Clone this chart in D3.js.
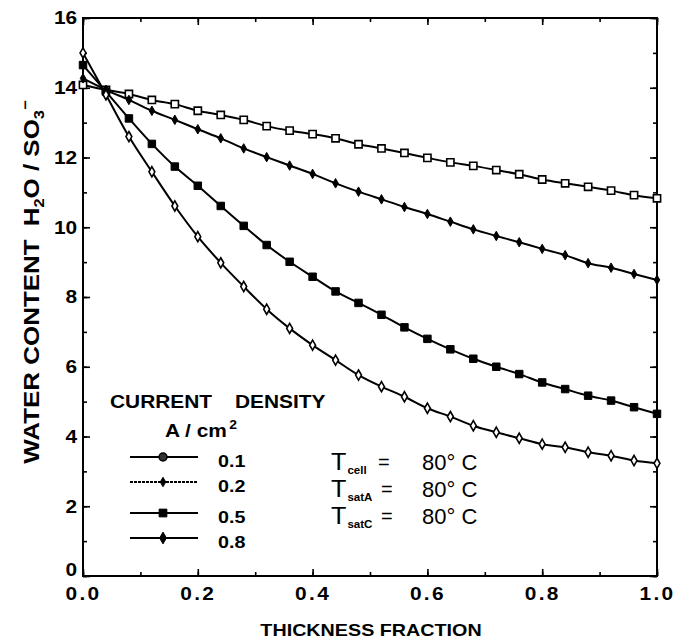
<!DOCTYPE html>
<html><head><meta charset="utf-8">
<script src="https://cdn.jsdelivr.net/npm/d3@7"></script>
<style>
html,body{margin:0;padding:0;background:#fff;}
svg{display:block;font-family:"Liberation Sans",Arial,Helvetica,sans-serif;}
</style></head><body>
<svg id="chart" width="688" height="642"></svg>
<script>
// ---- data ----
const thickness = [0.00,0.04,0.08,0.12,0.16,0.20,0.24,0.28,0.32,0.36,0.40,0.44,0.48,0.52,0.56,0.60,0.64,0.68,0.72,0.76,0.80,0.84,0.88,0.92,0.96,1.00];
const cd01 = [14.08,13.94,13.82,13.65,13.53,13.34,13.22,13.08,12.90,12.77,12.67,12.55,12.38,12.26,12.13,11.99,11.86,11.76,11.64,11.52,11.37,11.26,11.16,11.05,10.92,10.83];
const cd02 = [14.27,13.94,13.65,13.34,13.08,12.81,12.55,12.26,12.01,11.77,11.53,11.26,11.02,10.80,10.58,10.38,10.16,9.94,9.75,9.57,9.38,9.20,8.97,8.84,8.66,8.49];
const cd05 = [14.65,13.89,13.12,12.39,11.74,11.19,10.61,10.04,9.49,9.01,8.58,8.16,7.83,7.49,7.13,6.80,6.50,6.23,6.00,5.79,5.55,5.36,5.17,5.03,4.84,4.65];
const cd08 = [15.00,13.80,12.60,11.59,10.61,9.73,8.98,8.30,7.65,7.10,6.62,6.19,5.76,5.43,5.14,4.81,4.57,4.31,4.12,3.95,3.78,3.69,3.55,3.45,3.31,3.23];
const seriesLabels = ["0.1","0.2","0.5","0.8"];
const xTickValues = [0.0,0.2,0.4,0.6,0.8,1.0];
const xMinorValues = [0.0,0.1,0.2,0.3,0.4,0.5,0.6,0.7,0.8,0.9,1.0];
const yTickValues = [0,2,4,6,8,10,12,14,16];
const yMinorValues = [0,1,2,3,4,5,6,7,8,9,10,11,12,13,14,15,16];
const condSubs = ["cell","satA","satC"];
const condValues = ["80° C","80° C","80° C"];

// ---- layout ----
const svg = d3.select("#chart");
const L = 83, R = 657, T = 18, B = 576;
const SX = 1.16; // horizontal stretch of the original lettering
const x = d3.scaleLinear().domain([0,1]).range([L,R]);
const y = d3.scaleLinear().domain([0,16]).range([B,T]);

function txt(g, px, py, str, size, weight, anchor, sx){
  return g.append("text")
    .attr("transform",`translate(${px},${py}) scale(${sx||SX},1)`)
    .attr("text-anchor",anchor||"start")
    .attr("font-size",size).attr("font-weight",weight||"bold")
    .attr("fill","#000").text(str);
}

// ---- axes ----
function styleAxis(g){ g.select(".domain").remove(); g.selectAll("line").attr("stroke","#000").attr("stroke-width",1.6); }

svg.append("g").attr("transform",`translate(0,${B})`)
  .call(d3.axisBottom(x).tickValues(xMinorValues).tickSize(-4).tickFormat(""))
  .call(styleAxis);
const xb = svg.append("g").attr("transform",`translate(0,${B})`)
  .call(d3.axisBottom(x).tickValues(xTickValues).tickSize(-7).tickPadding(11).tickFormat(d3.format(".1f")))
  .call(styleAxis);
xb.selectAll("text").attr("font-size",18).attr("font-weight","bold").attr("fill","#000")
  .attr("letter-spacing","2px").attr("transform",`scale(${SX},1)`).attr("font-family","'Liberation Sans',Arial,sans-serif");

svg.append("g").attr("transform",`translate(0,${T})`)
  .call(d3.axisTop(x).tickValues(xMinorValues).tickSize(-4).tickFormat(""))
  .call(styleAxis);
svg.append("g").attr("transform",`translate(0,${T})`)
  .call(d3.axisTop(x).tickValues(xTickValues).tickSize(-7).tickFormat(""))
  .call(styleAxis);

svg.append("g").attr("transform",`translate(${L},0)`)
  .call(d3.axisLeft(y).tickValues(yMinorValues).tickSize(-4).tickFormat(""))
  .call(styleAxis);
const yl = svg.append("g").attr("transform",`translate(${L},0)`)
  .call(d3.axisLeft(y).tickValues(yTickValues).tickSize(-7).tickPadding(5).tickFormat(d3.format("d")))
  .call(styleAxis);
yl.selectAll("text").attr("font-size",18).attr("font-weight","bold").attr("fill","#000")
  .attr("transform",`scale(${SX},1)`).attr("font-family","'Liberation Sans',Arial,sans-serif");
// lift the bottom "0" a little so it sits above "0.0" as in the reference
yl.selectAll(".tick").filter(d=>d===0).select("text").attr("dy","-0.05em");

svg.append("g").attr("transform",`translate(${R},0)`)
  .call(d3.axisRight(y).tickValues(yMinorValues).tickSize(-4).tickFormat(""))
  .call(styleAxis);
svg.append("g").attr("transform",`translate(${R},0)`)
  .call(d3.axisRight(y).tickValues(yTickValues).tickSize(-7).tickFormat(""))
  .call(styleAxis);

svg.append("rect").attr("x",L).attr("y",T).attr("width",R-L).attr("height",B-T)
  .attr("fill","none").attr("stroke","#000").attr("stroke-width",2);

// ---- series ----
const allSeries = [cd01, cd02, cd05, cd08];
const markerStyles = [
  {type:d3.symbolSquare, size:52, fill:"#fff", stroke:"#000", sw:1.6},
  {type:d3.symbolDiamond, size:26, fill:"#000", stroke:"#000", sw:1},
  {type:d3.symbolSquare, size:56, fill:"#000", stroke:"#000", sw:1},
  {type:d3.symbolDiamond, size:30, fill:"#fff", stroke:"#000", sw:1.6}
];
const line = d3.line().x((d,i)=>x(thickness[i])).y(d=>y(d)).curve(d3.curveMonotoneX);
const plot = svg.append("g");
allSeries.forEach((vals,si)=>{
  plot.append("path").datum(vals).attr("d",line)
    .attr("fill","none").attr("stroke","#000").attr("stroke-width",2);
});
allSeries.forEach((vals,si)=>{
  const ms = markerStyles[si];
  plot.selectAll(null).data(vals).enter().append("path")
    .attr("transform",(d,i)=>`translate(${x(thickness[i])},${y(d)})`)
    .attr("d",d3.symbol().type(ms.type).size(ms.size))
    .attr("fill",ms.fill).attr("stroke",ms.stroke).attr("stroke-width",ms.sw);
});

// ---- legend ----
const lg = svg.append("g");
txt(lg,110,408,"CURRENT",18);
txt(lg,235,408,"DENSITY",18);
const au = lg.append("text").attr("transform",`translate(165,437) scale(${SX},1)`)
  .attr("font-size",18).attr("font-weight","bold");
au.append("tspan").text("A / cm");
au.append("tspan").attr("font-size",12).attr("dy",-8).attr("dx",2).text("2");
const legY = [457,482,513,538];
const legMarkers = [
  {type:d3.symbolCircle, size:50, fill:"#333", stroke:"#000", sw:1.5},
  {type:d3.symbolDiamond, size:26, fill:"#000", stroke:"#000", sw:1},
  {type:d3.symbolSquare, size:60, fill:"#000", stroke:"#000", sw:1},
  {type:d3.symbolDiamond, size:40, fill:"#000", stroke:"#000", sw:1}
];
seriesLabels.forEach((lab,i)=>{
  lg.append("line").attr("x1",130).attr("x2",198).attr("y1",legY[i]).attr("y2",legY[i])
    .attr("stroke","#000").attr("stroke-width",2)
    .attr("stroke-dasharray", i===1 ? "3,1" : null);
  const ms = legMarkers[i];
  lg.append("path").attr("transform",`translate(163,${legY[i]})`)
    .attr("d",d3.symbol().type(ms.type).size(ms.size))
    .attr("fill",ms.fill).attr("stroke",ms.stroke).attr("stroke-width",ms.sw);
  txt(lg,218,legY[i]+10,lab,17);
});

// ---- conditions ----
const cg = svg.append("g");
const condY = [470,497,524];
condSubs.forEach((s,i)=>{
  const t = cg.append("text").attr("transform",`translate(331,${condY[i]}) scale(1.05,1)`)
    .attr("font-size",24).attr("font-weight","normal");
  t.append("tspan").text("T");
  t.append("tspan").attr("font-size",11).attr("font-weight","bold").attr("dy",4).attr("dx",1).text(s);
  txt(cg,378 + (i>0?3:0),condY[i]-1,"=",20,"normal","start",1.0);
  txt(cg,422,condY[i],condValues[i],22,"normal","start",1.0);
});

// ---- axis titles ----
txt(svg,371,636,"THICKNESS FRACTION",17,"bold","middle");
const yt = svg.append("text")
  .attr("transform",`translate(39,282) rotate(-90) scale(1.18,1)`)
  .attr("text-anchor","middle").attr("font-size",22).attr("font-weight","bold");
yt.append("tspan").text("WATER CONTENT");
yt.append("tspan").attr("dx",11).text("H");
yt.append("tspan").attr("font-size",14).attr("dy",5).text("2");
yt.append("tspan").attr("dy",-5).text("O / SO");
yt.append("tspan").attr("font-size",14).attr("dy",5).text("3");
yt.append("tspan").attr("font-size",14).attr("dy",-14).text("−");
</script>
</body></html>
